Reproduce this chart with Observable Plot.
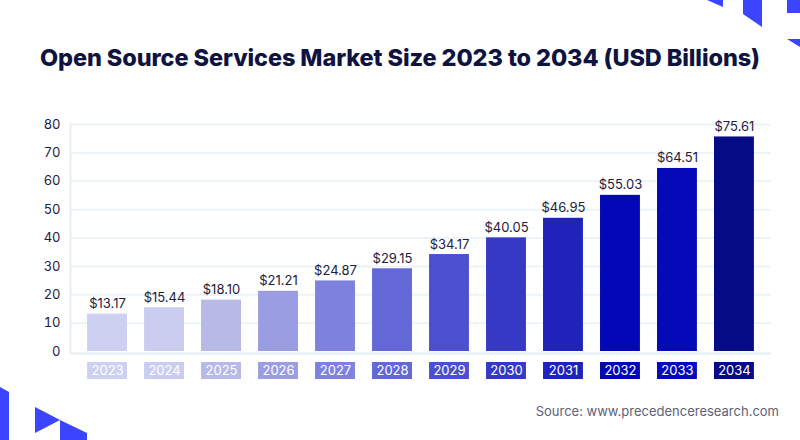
<!DOCTYPE html>
<html>
<head>
<meta charset="utf-8">
<script src="https://cdn.jsdelivr.net/npm/d3@7"></script>
<script src="https://cdn.jsdelivr.net/npm/@observablehq/plot@0.6"></script>
<style>
  html, body { margin: 0; padding: 0; background: #ffffff; }
  #wrap { position: relative; width: 800px; height: 440px; overflow: hidden; background: #fff; font-family: Inter, "Noto Sans", sans-serif; }
  #chart { position: absolute; left: 0; top: 0; }
  #title { position: absolute; left: 0; width: 800px; top: 43px; text-align: center; font-family: Inter, sans-serif; font-weight: 800; font-size: 23.5px; color: #0f1340; letter-spacing: -0.1px; }
  #source { position: absolute; right: 21px; top: 403px; font-family: Inter, sans-serif; font-size: 13px; color: #5d6275; }
  #deco { position: absolute; left: 0; top: 0; pointer-events: none; }
</style>
</head>
<body>
<div id="wrap">
  <div id="chart"></div>
  <div id="title">Open Source Services Market Size 2023 to 2034 (USD Billions)</div>
  <div id="source">Source: www.precedenceresearch.com</div>
  <svg id="deco" width="800" height="440" viewBox="0 0 800 440">
    <polygon points="707,0 723,0 723,7" fill="#3b44ff"/>
    <polygon points="743,0 762,0 762,27 743,14" fill="#3b44ff"/>
    <polygon points="787,0 800,0 800,13 787,13" fill="#3b44ff"/>
    <polygon points="787,39 800,39 800,47" fill="#3b44ff"/>
    <polygon points="0,387 9,392 9,440 0,440" fill="#3b44ff"/>
    <polygon points="35,407 60,420 35,433" fill="#3b44ff"/>
    <polygon points="60,420 87,433 87,440 60,440" fill="#3b44ff"/>
  </svg>
</div>
<script>
const years = ["2023","2024","2025","2026","2027","2028","2029","2030","2031","2032","2033","2034"];
const values = [13.17, 15.44, 18.10, 21.21, 24.87, 29.15, 34.17, 40.05, 46.95, 55.03, 64.51, 75.61];
const colors = ["#cdd0f0","#cbcdf0","#b7b9e6","#9b9de3","#7e81dd","#6367d7","#4c50d0","#3539c6","#1f23b9","#0208b5","#050ab8","#040b84"];
const yTicks = [0, 10, 20, 30, 40, 50, 60, 70, 80];

const data = years.map((y, i) => ({year: y, value: values[i], color: colors[i]}));

const chart = Plot.plot({
  width: 800,
  height: 440,
  marginTop: 124,
  marginBottom: 89,
  marginLeft: 70,
  marginRight: 29,
  style: {fontFamily: "Inter, sans-serif", fontSize: "13px", color: "#1d2040", background: "transparent"},
  x: {domain: years, padding: 0.3, round: false, axis: null},
  y: {domain: [0, 80], axis: null},
  marks: [
    Plot.gridY(yTicks.filter(d => d > 0), {stroke: "#edf3f6", strokeOpacity: 1, strokeWidth: 2}),
    Plot.frame({anchor: "left", stroke: "#e6eef2", strokeWidth: 2}),
    Plot.ruleY([0], {stroke: "#e6eef2", strokeWidth: 2, dy: 2}),
    Plot.axisY(yTicks, {tickSize: 0, tickPadding: 10, fontSize: 13, fill: "#1d2040", label: null}),
    Plot.barY(data, {x: "year", y: "value", fill: "color"}),
    Plot.text(data, {x: "year", y: "value", text: d => "$" + d.value.toFixed(2), lineAnchor: "bottom", dy: -6, fontSize: 13, fill: "#1d2040"}),
    Plot.barY(data, {x: "year", y1: 0, y2: 0, fill: "color", insetTop: 11, insetBottom: -28}),
    Plot.text(data, {x: "year", y: 0, text: "year", dy: 19.5, fill: "#ffffff", fontSize: 13})
  ]
});
document.getElementById("chart").appendChild(chart);
</script>
</body>
</html>
